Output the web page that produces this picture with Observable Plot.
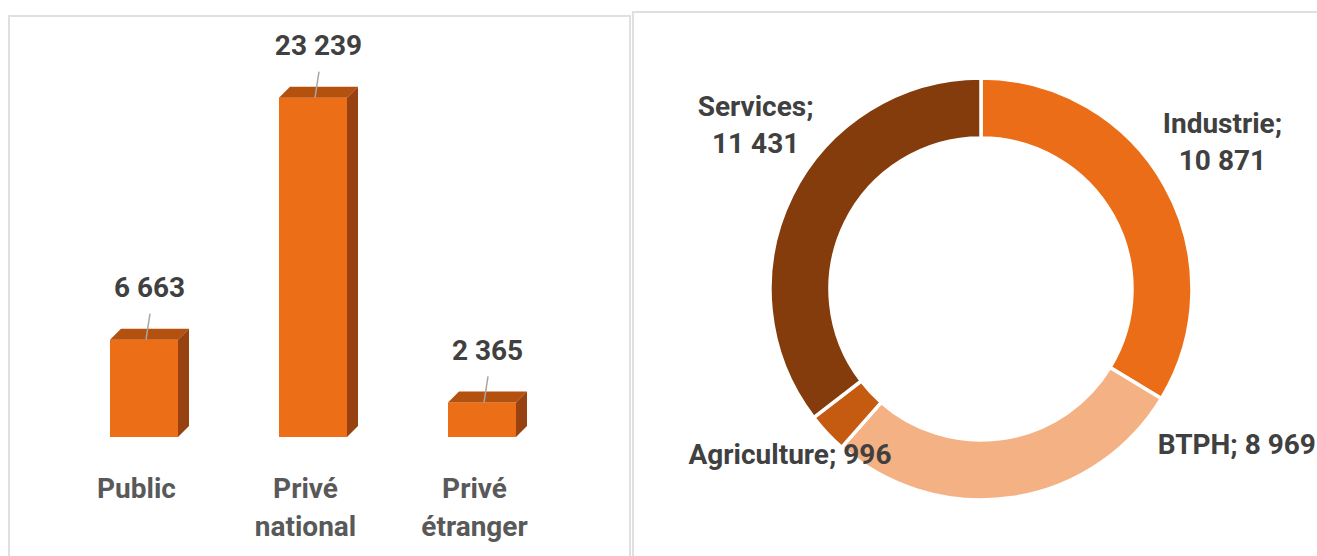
<!DOCTYPE html>
<html><head><meta charset="utf-8">
<script src="https://cdn.jsdelivr.net/npm/d3@7"></script>
<script src="https://cdn.jsdelivr.net/npm/@observablehq/plot@0.6"></script>
<style>
html,body{margin:0;padding:0;background:#fff;}
body{width:1317px;height:556px;overflow:hidden;position:relative;font-family:Roboto, "Open Sans", sans-serif;}
.panel{position:absolute;box-sizing:border-box;border:2px solid #e0e0e0;}
.chart{position:absolute;top:0;}
.chart svg{background:transparent !important;overflow:visible;}
</style></head><body>
<div class="panel" style="left:8px;top:15px;width:623px;height:620px"></div>
<div class="panel" style="left:632px;top:11px;width:720px;height:620px"></div>
<div id="bars" class="chart" style="left:0px"></div>
<div id="donut" class="chart" style="left:632px"></div>
<script>
// ---- data ----
const categories = ["Public", "Privé national", "Privé étranger"];
const categoryLabels = ["Public", "Privé\nnational", "Privé\nétranger"];
const employment = [6663, 23239, 2365];

const sectors = ["Industrie", "BTPH", "Agriculture", "Services"];
const sectorValues = [10871, 8969, 996, 11431];
const sectorColors = ["#EB6D17", "#F4B183", "#C55A11", "#843C0C"];

// label layout for the donut (polar: degrees clockwise from top, radius in outer-radius units)
const labelAngle = [58.1, 120.9, 229.7, 306.4];
const labelRadius = [1.345, 1.41, 1.19, 1.33];

// ---- formatting ----
const fmt = d3.formatLocale({decimal: ",", thousands: "\u00a0", grouping: [3], currency: ["", " €"]}).format(",d");
const FONT = "Roboto, 'Open Sans', sans-serif";

// ---- bar chart ----
const barData = categories.map((c, i) => ({cat: c, label: categoryLabels[i], value: employment[i]}));
const depth = 11;
const frontColor = "#EC6F17", topColor = "#B4510F", sideColor = "#974210";

const faces3d = (index, {x, y}) => {
  const g = d3.create("svg:g");
  const bw = x.bandwidth();
  for (const d of barData) {
    const x0 = x(d.cat), x1 = x0 + bw, y0 = y(0), y1 = y(d.value);
    g.append("path")
      .attr("d", `M${x0},${y1}L${x0 + depth},${y1 - depth}L${x1 + depth},${y1 - depth}L${x1},${y1}Z`)
      .attr("fill", topColor);
    g.append("path")
      .attr("d", `M${x1},${y1}L${x1 + depth},${y1 - depth}L${x1 + depth},${y0 - depth}L${x1},${y0}Z`)
      .attr("fill", sideColor);
    const cx = x0 + bw / 2;
    g.append("line")
      .attr("x1", cx + 2).attr("y1", y1)
      .attr("x2", cx + 6).attr("y2", y1 - 26)
      .attr("stroke", "#a6a6a6").attr("stroke-width", 1.5);
  }
  return g.node();
};

const bars = Plot.plot({
  width: 640, height: 556,
  marginLeft: 8, marginRight: 22, marginTop: 72, marginBottom: 119,
  style: {fontFamily: FONT, background: "transparent"},
  x: {domain: categories, paddingInner: 0.6, paddingOuter: 0.6, axis: null},
  y: {domain: [0, 25000], axis: null},
  marks: [
    Plot.barY(barData, {x: "cat", y: "value", fill: frontColor}),
    faces3d,
    Plot.text(barData, {x: "cat", y: "value", text: d => fmt(d.value), dy: -52, dx: 5,
      fontSize: 28, fontWeight: "bold", fill: "#404040"}),
    Plot.text(barData, {x: "cat", y: () => 0, text: "label", lineAnchor: "top", dy: 34, dx: -8,
      lineHeight: 1.357, fontSize: 28, fontWeight: "bold", fill: "#595959"})
  ]
});
document.getElementById("bars").append(bars);

// ---- donut chart ----
const W = 685, H = 556, cxPx = 349, cyPx = 289, R = 211, innerRatio = 151 / 211;
const donutData = sectors.map((s, i) => ({sector: s, value: sectorValues[i], color: sectorColors[i]}));
const pieArcs = d3.pie().sort(null).value(d => d.value)(donutData);

const ringMark = (index, {x, y}) => {
  const cx = x(0), cy = y(0), r = x(1) - x(0);
  const arc = d3.arc().innerRadius(r * innerRatio).outerRadius(r);
  const g = d3.create("svg:g").attr("transform", `translate(${cx},${cy})`);
  g.selectAll("path").data(pieArcs).join("path")
    .attr("d", arc)
    .attr("fill", d => d.data.color)
    .attr("stroke", "#fff").attr("stroke-width", 3.5);
  return g.node();
};

const labelData = donutData.map((d, i) => {
  const a = labelAngle[i] * Math.PI / 180;
  return {
    lx: labelRadius[i] * Math.sin(a),
    ly: labelRadius[i] * Math.cos(a),
    text: d.sector === "BTPH" || d.sector === "Agriculture"
      ? `${d.sector}; ${fmt(d.value)}` : `${d.sector};\n${fmt(d.value)}`
  };
});

const donut = Plot.plot({
  width: W, height: H,
  margin: 0,
  style: {fontFamily: FONT, background: "transparent"},
  x: {domain: [-cxPx / R, (W - cxPx) / R], axis: null},
  y: {domain: [-(H - cyPx) / R, cyPx / R], axis: null},
  marks: [
    ringMark,
    Plot.text(labelData, {x: "lx", y: "ly", text: "text", lineHeight: 1.32,
      fontSize: 28, fontWeight: "bold", fill: "#404040"})
  ]
});
document.getElementById("donut").append(donut);
</script>
</body></html>
